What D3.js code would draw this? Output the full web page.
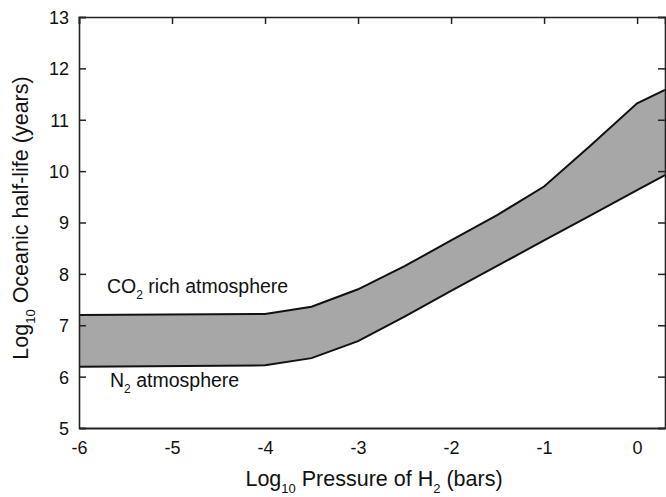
<!DOCTYPE html>
<html>
<head>
<meta charset="utf-8">
<script src="https://cdn.jsdelivr.net/npm/d3@7"></script>
<style>
  body { margin: 0; background: #fff; }
  text { font-family: "Liberation Sans", Arial, sans-serif; fill: #111; }
</style>
</head>
<body>
<div id="chart"></div>
<script>
// log10 pressure of H2 (bars)
var pressure = [-6, -4, -3.5, -3, -2.5, -2, -1.5, -1, -0.5, 0, 0.3];
// log10 oceanic half-life (years)
var co2Rich = [7.2, 7.22, 7.36, 7.7, 8.15, 8.65, 9.15, 9.7, 10.5, 11.32, 11.58];
var n2Atm   = [6.19, 6.22, 6.36, 6.69, 7.17, 7.67, 8.16, 8.65, 9.14, 9.63, 9.92];
var xTicks = [-6, -5, -4, -3, -2, -1, 0];
var yTicks = [5, 6, 7, 8, 9, 10, 11, 12, 13];

var W = 666, H = 497;
var margin = {top: 17, right: 1, bottom: 69, left: 79};

var svg = d3.select("#chart").append("svg")
    .attr("width", W)
    .attr("height", H);

var x = d3.scaleLinear().domain([-6, 0.3]).range([margin.left, W - margin.right]);
var y = d3.scaleLinear().domain([5, 13]).range([H - margin.bottom, margin.top]);

var band = pressure.map(function(p, i) { return {p: p, hi: co2Rich[i], lo: n2Atm[i]}; });

// shaded band between the two cases
svg.append("path")
    .datum(band)
    .attr("d", d3.area()
        .x(function(d) { return x(d.p); })
        .y0(function(d) { return y(d.lo); })
        .y1(function(d) { return y(d.hi); }))
    .style("fill", "#a7a7a7");

[co2Rich, n2Atm].forEach(function(series) {
    svg.append("path")
        .datum(pressure.map(function(p, i) { return [p, series[i]]; }))
        .attr("d", d3.line()
            .x(function(d) { return x(d[0]); })
            .y(function(d) { return y(d[1]); }))
        .style("fill", "none")
        .style("stroke", "#111")
        .style("stroke-width", 2);
});

// plain hyphen for negatives, like the original
var fmt = function(d) { return String(d); };

// axes: ticks point inward, none on the bottom
var axLeft = svg.append("g")
    .attr("transform", "translate(" + margin.left + ",0)")
    .call(d3.axisLeft(y).tickValues(yTicks).tickSize(-7).tickPadding(10).tickFormat(fmt));
var axRight = svg.append("g")
    .attr("transform", "translate(" + (W - margin.right) + ",0)")
    .call(d3.axisRight(y).tickValues(yTicks).tickSize(-7).tickFormat(""));
var axTop = svg.append("g")
    .attr("transform", "translate(0," + margin.top + ")")
    .call(d3.axisTop(x).tickValues(xTicks).tickSize(-7).tickFormat(""));
var axBottom = svg.append("g")
    .attr("transform", "translate(0," + (H - margin.bottom) + ")")
    .call(d3.axisBottom(x).tickValues(xTicks).tickSize(0).tickPadding(13).tickFormat(fmt));

[axLeft, axRight, axTop, axBottom].forEach(function(g) {
    g.select(".domain").attr("stroke", "#222").attr("stroke-width", 1.6);
    g.selectAll(".tick line").attr("stroke", "#222").attr("stroke-width", 1.5);
    g.selectAll(".tick text").style("font-size", "18px")
        .style("font-family", "'Liberation Sans', Arial, sans-serif").attr("fill", "#111");
});
axLeft.selectAll(".tick text").attr("dy", "0.36em");
axBottom.select(".domain").attr("stroke-width", 2.2);

// text with subscripts; shifts in px so the baseline comes back exactly
function subText(g, parts, size) {
    var t = g.append("text").style("font-size", size + "px");
    var drop = Math.round(size * 0.32);
    var down = false;
    parts.forEach(function(part) {
        var s = t.append("tspan");
        if (part.sub) {
            s.text(part.sub).attr("dy", drop).style("font-size", Math.round(size * 0.62) + "px");
            down = true;
        } else {
            s.text(part.t);
            if (down) { s.attr("dy", -drop); down = false; }
        }
    });
    return t;
}

subText(svg, [{t: "Log"}, {sub: "10"}, {t: " Pressure of H"}, {sub: "2"}, {t: " (bars)"}], 21.5)
    .attr("x", 374).attr("y", 486).attr("text-anchor", "middle");

subText(svg, [{t: "Log"}, {sub: "10"}, {t: " Oceanic half-life (years)"}], 21.5)
    .attr("text-anchor", "middle")
    .attr("transform", "translate(28,218) rotate(-90)");

subText(svg, [{t: "CO"}, {sub: "2"}, {t: " rich atmosphere"}], 19.5)
    .attr("x", 107).attr("y", 293);

subText(svg, [{t: "N"}, {sub: "2"}, {t: " atmosphere"}], 19.5)
    .attr("x", 110).attr("y", 387);
</script>
</body>
</html>
